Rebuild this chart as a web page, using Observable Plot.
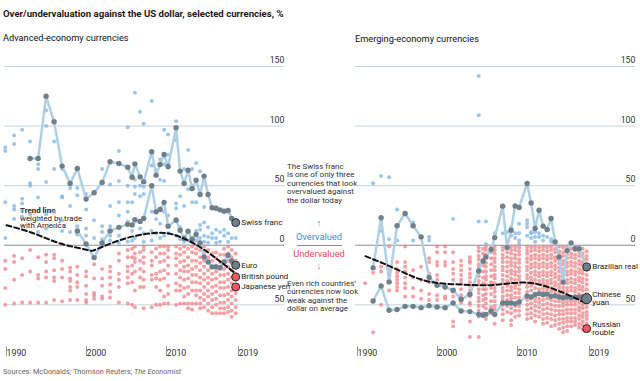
<!DOCTYPE html>
<html><head><meta charset="utf-8">
<script src="https://cdn.jsdelivr.net/npm/d3@7"></script>
<script src="https://cdn.jsdelivr.net/npm/@observablehq/plot@0.6"></script>
<style>
body{margin:0;background:#fff;}
#wrap{position:relative;width:640px;height:381px;overflow:hidden;font-family:"Liberation Sans Narrow","Roboto",sans-serif;color:#1a1a1a;}
.t{position:absolute;white-space:nowrap;line-height:1;}
#wrap svg{position:absolute;}
</style></head><body><div id="wrap">
<div class="t" style="left:3px;top:9px;font-size:9.6px;font-weight:bold">Over/undervaluation against the US dollar, selected currencies, %</div>
<div class="t" style="left:3px;top:33px;font-size:9.2px;color:#111">Advanced-economy currencies</div>
<div class="t" style="left:355px;top:34px;font-size:9.2px;color:#111">Emerging-economy currencies</div>
<div class="t" style="left:20px;top:207px;font-size:7.9px;line-height:7.6px;color:#222"><b>Trend line</b><br>weighted by trade<br>with America</div>
<div class="t" style="left:287px;top:163px;font-size:8px;line-height:8.4px;color:#333">The Swiss franc<br>is one of only three<br>currencies that look<br>overvalued against<br>the dollar today</div>
<div class="t" style="left:287px;top:219px;width:64px;text-align:center;font-size:9px;color:#3d8fd6">&#8593;</div>
<div class="t" style="left:287px;top:231.5px;width:64px;text-align:center;font-size:9.3px;color:#3d8fd6">Overvalued</div>
<div style="position:absolute;left:297px;top:245px;width:45px;height:1px;background:#8c8c8c"></div>
<div class="t" style="left:287px;top:248.5px;width:64px;text-align:center;font-size:9.3px;color:#ee4a55">Undervalued</div>
<div class="t" style="left:287px;top:262px;width:64px;text-align:center;font-size:9px;color:#ee4a55">&#8595;</div>
<div class="t" style="left:287px;top:280px;font-size:8px;line-height:8.4px;color:#333">Even rich countries’<br>currencies now look<br>weak against the<br>dollar on average</div>
<div class="t" style="left:3px;top:367.5px;font-size:7.3px;color:#666">Sources: McDonalds; Thomson Reuters; <i>The Economist</i></div>
</div>
<script>
// ---------- DATA ----------
const gridLevels = [150, 100, 50, 0, -50];
const yearTicks = [1990, 2000, 2010, 2019];

// Advanced economies: survey dates and all currency readings per date (%)
const advDates = [1990.1, 1991.2, 1992.2, 1993.2, 1994.2, 1995.2, 1996.2, 1997.2, 1998.2, 1999.1,
  2000.2, 2001.2, 2002.2, 2003.2, 2004.3, 2005.4, 2005.95, 2006.3, 2006.95, 2007.4,
  2008.4, 2008.95, 2009.45, 2009.95, 2010.45, 2011.45, 2011.95, 2012.45, 2012.95, 2013.45,
  2013.95, 2014.45, 2014.95, 2015.45, 2015.95, 2016.45, 2016.95, 2017.45, 2017.95, 2018.4, 2018.9];
const advValues = [
  [82, 79, 36, 6, -13, -20, -36, -50],
  [92, 85, 33, 30, 22, -9, -14, -29, -49],
  [97, 39, 35, 29, 24, -11, -25, -48],
  [87, 52, 50, 26, -4, -22, -48],
  [68, 64, 40, 22, 11, -10, -25, -28, -48],
  [113, 100, 53, 26, 14, -8, -14, -22, -27, -48],
  [87, 64, 28, 16, -8, -11, -21, -27, -30, -46],
  [64, 41, 40, 21, 12, -13, -20, -27, -47],
  [48, 33, 11, -19, -22, -28, -30, -35, -38, -46],
  [48, 42, 16, 9, -18, -25, -31, -35, -46],
  [43, 30, 14, 8, -22, -26, -34, -41, -46, -48],
  [21, 6, -16, -28, -40, -42, -45],
  [64, 16, 11, 5, -20, -28, -34, -43, -45],
  [51, 33, 16, 8, 4, -18, -22, -27, -33, -39, -44],
  [79, 54, 36, 25, 8, 2, -7, -13, -24, -29, -35, -48],
  [99, 50, 36, 28, 20, 3, -4, -10, -18, -22, -27, -32, -49],
  [36, 12, 4, -3, -10, -17, -24, -31, -50],
  [128, 55, 49, 43, 20, 6, -1, -7, -11, -14, -22, -38, -52],
  [112, 50, 41, 14, -6, -13, -20, -27, -35],
  [102, 49, 43, 10, 3, -1, -4, -10, -15, -22, -29, -35, -53],
  [121, 67, 28, 12, 4, -6, -13, -17, -25, -29, -52],
  [63, 22, 10, -3, -10, -24, -28, -35, -50],
  [72, 55, 18, 6, -1, -7, -14, -22, -29, -38, -50],
  [97, 68, 54, 28, 8, -1, -7, -13, -21, -28, -43, -49],
  [93, 76, 65, 25, 10, -1, -4, -10, -17, -24, -34, -41, -49],
  [104, 88, 35, 31, 22, 8, -1, -7, -11, -17, -24, -32, -38, -50],
  [41, 15, 5, -3, -8, -14, -21, -27, -34, -38, -49],
  [64, 33, 7, 3, -1, -6, -13, -18, -22, -29, -36, -43, -49],
  [80, 47, 11, 4, -3, -10, -17, -22, -28, -35, -41, -49, -53],
  [64, 36, 6, 3, -1, -6, -13, -20, -25, -31, -38, -49, -54],
  [69, 36, 12, 4, -3, -7, -13, -18, -25, -31, -38, -42, -49],
  [62, 17, 13, 6, -4, -10, -15, -21, -27, -32, -38, -44, -49, -53],
  [32, 19, 8, 3, -1, -7, -13, -18, -24, -29, -35, -41, -46, -52],
  [15, 7, 2, -4, -10, -15, -21, -27, -32, -38, -43, -49, -55],
  [10, 6, -7, -13, -18, -24, -29, -35, -41, -46, -52, -57],
  [13, 6, 2, -6, -11, -17, -22, -28, -34, -39, -45, -50, -57],
  [11, 3, -8, -14, -20, -25, -31, -36, -42, -48, -53, -57],
  [13, 8, -3, -8, -14, -20, -25, -31, -36, -42, -48, -53, -57],
  [10, 3, -1, -7, -13, -18, -24, -29, -35, -41, -46, -52, -56],
  [6, -4, -10, -15, -21, -27, -32, -38, -43, -49, -55, -60],
  [6, -7, -13, -18, -24, -29, -40, -46, -52, -57]
];
// Highlighted advanced series (aligned with advDates; null = no reading)
const swissFranc = [null, null, null, 72.8, 72.8, 125, 103.6, 66.4, 51.8, 64.4,
  38.7, 44, 52.7, 70, 68.6, 65.5, 57, 68.3, 57.4, 53.2,
  78.4, 58.8, 67.8, 76.2, 66.1, 98.6, 62.2, 51.8, 63, 47.6,
  54.6, 42.6, 58, 42.6, 31.4, 31, 29.7, 28.6, 29.1, 22.4, 19];
const euro = [null, null, null, null, null, null, null, null, null, 12,
  1, -10.4, 1.9, 12, 15, 17.5, 17, 21.5, 20, 22.5,
  50, 28, 30, 36, 16, 21, 12.6, 5.6, 11.8, 5,
  9, 2, -9.8, -14, -18.2, -18.2, -18.7, -14, -8.4, -13.2, -16.8];
const advTrendYears = [1990.25, 1993.7, 1997, 2000.1, 2001.2, 2003.25, 2006.2, 2009.1, 2011.2, 2013.7, 2016.2, 2018.9];
const advTrendValues = [16.8, 9.8, 1.4, -3.6, -4.2, 1.4, 7.6, 10.4, 8.7, 1.4, -9.8, -23.8];
const advEndNames = ["Swiss franc", "Euro", "British pound", "Japanese yen"];
const advEndValues = [19, -16.8, -26.6, -35];
const advEndKinds = ["line", "line", "under", "under"];

// Emerging economies
const emDates = [1991.2, 1992.2, 1993.2, 1994.2, 1995.2, 1996.2, 1997.2, 1998.2, 1999.2, 2000.2,
  2001.2, 2002.2, 2003.2, 2004.3, 2005.4, 2005.95, 2006.3, 2006.95, 2007.4, 2008.4,
  2008.95, 2009.45, 2009.95, 2010.45, 2011.45, 2011.95, 2012.45, 2012.95, 2013.45, 2013.95,
  2014.45, 2014.95, 2015.45, 2015.95, 2016.45, 2016.95, 2017.45, 2017.95, 2018.4, 2018.9];
const emValues = [
  [-32],
  [52, -23, -73],
  [58, 12, -18, -22, -50],
  [57, 5, -1, -21, -38],
  [30, 4, -14, -20, -23, -26, -29, -32, -35, -38],
  [-1, -14, -18, -22, -27, -32, -36, -43],
  [19, 4, -21, -27, -36, -43],
  [-18, -29, -38, -45],
  [7, 4, -11, -14, -24, -31, -41, -46],
  [-1, -6, -14, -17, -25, -29, -42, -46],
  [-1, -6, -14, -17, -36, -43, -45],
  [22, -6, -14, -20, -24, -29, -39, -43, -64, -68],
  [-13, -17, -21, -25, -29, -32, -37, -42, -48],
  [-10, -13, -15, -20, -24, -27, -31, -34, -38, -43, -48, -50, -64, -77],
  [142, 109, 20, -2, -5, -9, -12, -16, -19, -23, -26, -30, -33, -37, -40, -44, -47, -51, -55, -60, -77],
  [-3, -7, -12, -17, -22, -27, -32, -37, -42, -46, -51, -57],
  [20, 1, -1, -4, -8, -11, -15, -18, -22, -26, -29, -33, -37, -41, -45, -49, -53, -58, -62],
  [-2, -6, -11, -16, -21, -26, -31, -36, -41, -47, -52, -57],
  [10, -1, -4, -7, -11, -14, -18, -21, -25, -28, -32, -36, -39, -43, -47, -51, -54, -59, -66],
  [10, -1, -4, -8, -11, -14, -18, -21, -25, -29, -32, -36, -39, -43, -46, -50, -54, -58, -63],
  [11, -2, -6, -10, -14, -18, -22, -26, -30, -34, -38, -42, -46, -51, -56],
  [15, 8, -1, -4, -7, -11, -14, -17, -21, -24, -28, -31, -35, -38, -42, -45, -49, -53, -57, -63, -67],
  [10, 6, -1, -4, -8, -11, -15, -18, -22, -25, -29, -33, -36, -40, -44, -51, -55, -60],
  [18, 10, 4, 1, -2, -5, -8, -12, -15, -19, -22, -26, -29, -33, -37, -40, -44, -51, -55, -59],
  [21, 18, 15, 8, -1, -4, -7, -11, -14, -18, -21, -25, -28, -32, -35, -39, -46, -50, -54, -58, -62],
  [11, 10, 6, -2, -5, -9, -12, -16, -19, -23, -27, -30, -34, -38, -45, -49, -53, -57, -61],
  [11, 7, 3, -1, -4, -8, -11, -15, -18, -22, -25, -29, -32, -36, -44, -47, -51, -55, -59, -64],
  [10, 7, -2, -5, -9, -12, -16, -19, -23, -26, -30, -33, -37, -45, -48, -52, -56, -60],
  [8, 4, -1, -4, -8, -11, -15, -18, -22, -25, -29, -32, -36, -39, -46, -50, -54, -58, -62, -66],
  [7, -2, -5, -9, -12, -16, -19, -23, -26, -30, -33, -37, -45, -49, -53, -57, -61, -65],
  [5, 3, -1, -4, -8, -11, -15, -18, -22, -25, -29, -32, -36, -39, -46, -50, -54, -58, -62, -68],
  [-3, -6, -10, -13, -17, -20, -24, -27, -31, -34, -38, -41, -47, -51, -55, -59, -63, -67],
  [-1, -5, -8, -12, -15, -19, -22, -26, -29, -33, -36, -40, -47, -51, -55, -58, -62, -66, -70],
  [-2, -6, -9, -13, -16, -20, -23, -27, -35, -38, -42, -48, -51, -55, -58, -62, -65, -69, -73],
  [-1, -4, -8, -11, -15, -18, -22, -25, -29, -32, -36, -39, -47, -50, -54, -57, -61, -64, -68, -72],
  [-3, -7, -10, -14, -17, -21, -24, -28, -31, -35, -38, -47, -50, -54, -57, -61, -64, -68],
  [-1, -4, -8, -11, -15, -18, -22, -25, -29, -32, -36, -39, -47, -50, -54, -57, -61, -64, -67],
  [-2, -6, -9, -13, -16, -20, -23, -27, -30, -34, -37, -41, -48, -52, -55, -59, -62, -66, -69],
  [-3, -7, -10, -14, -17, -21, -24, -28, -31, -35, -38, -42, -46, -50, -53, -57, -60, -64, -67, -71],
  [-5, -9, -12, -16, -21, -25, -29, -33, -37, -41, -49, -52, -56, -59, -62, -66]
];
const brazilianReal = [null, -19, 23, -30.8, 16.3, 26.6, 16.3, 7, -27, -33.6,
  -35, -37.8, -45.4, -41.2, -21.6, -13.4, -9.8, -3.6, 6.4, 32.8,
  -2, 12.6, 33, 31.7, 51.8, 35.5, 14, 29.4, 16, 13.2,
  22.4, 2.8, -9.8, -31, -4.5, 2, -3, -3, null, -18.2];
const chineseYuan = [null, -46.8, -34.2, -54.6, -54, -51.3, -51.3, -52.4, -50.7, -51.8,
  -52.4, -48.5, -55.2, -55.7, -58, -58.8, -58, -55.2, -58, -48.5,
  -48.5, -48.5, -49, -47.6, -42.6, -43.4, -41.4, -40.6, -41.6, -41,
  -42.9, -42.6, -43.4, -44.3, -43.4, -44, -43.4, -43.7, -43.4, -44.8];
const emTrendYears = [1991.25, 1994, 1996.5, 1999.4, 2003.1, 2006.5, 2009, 2011.5, 2014, 2016.5, 2018.9];
const emTrendValues = [-9.2, -16.8, -24.4, -30.8, -33, -33.6, -32.2, -31.4, -35, -41.4, -49];
const emEndNames = ["Brazilian real", "Chinese\nyuan", "Russian\nrouble"];
const emEndValues = [-18.2, -44.8, -70];
const emEndKinds = ["line", "big", "under"];

// ---------- DRAWING ----------
const FONT = '"Liberation Sans Narrow", Roboto, sans-serif';
const BLUE = "#80b7e8", RED = "#f5858b", LINE = "#afd0e4", DARK = "#6e808c", ENDRED = "#f0595f";

function panel(dates, values, series, trendYears, trendValues, endNames, endValues, endKinds, width, mL, mR) {
  const cloud = [];
  dates.forEach((d, i) => values[i].forEach(v => cloud.push({date: d, value: v})));
  const trend = trendYears.map((d, i) => ({date: d, value: trendValues[i]}));
  const seriesMarks = series.flatMap(vals => {
    const pts = dates.map((d, i) => ({date: d, value: vals[i]})).filter(p => p.value != null);
    return [
      Plot.line(pts, {x: "date", y: "value", stroke: LINE, strokeWidth: 2.5}),
      Plot.dot(pts, {x: "date", y: "value", r: 2.7, fill: DARK})
    ];
  });
  const endDate = dates[dates.length - 1];
  const ends = endNames.map((n, i) => ({date: endDate, value: endValues[i], name: n, kind: endKinds[i]}));
  return Plot.plot({
    width, height: 316, marginTop: 16, marginBottom: 20, marginLeft: mL, marginRight: mR,
    x: {domain: [1990, 2025]},
    y: {domain: [-85, 150], axis: null},
    style: {fontFamily: FONT, fontSize: "9px", color: "#222", background: "transparent", overflow: "visible"},
    marks: [
      Plot.ruleY(gridLevels.filter(v => v !== 0), {y: d => d, stroke: "#c5d3dc", strokeWidth: 1}),
      Plot.ruleY(gridLevels.filter(v => v === 0), {y: d => d, stroke: "#8c8c8c", strokeWidth: 1}),
      Plot.text(gridLevels, {x: () => 2025, y: d => d, text: d => String(Math.abs(d)), textAnchor: "end", dy: -6, fontSize: 8.8, fill: "#333"}),
      Plot.axisX({ticks: yearTicks, tickSize: 10, tickPadding: -3, textAnchor: "start", lineAnchor: "middle", dx: 2, tickFormat: d => String(d), stroke: "#999", fill: "#333", fontSize: 8.8, label: null}),
      Plot.dot(cloud, {x: "date", y: "value", r: 2, fill: d => d.value >= 0 ? BLUE : RED, fillOpacity: 0.78}),
      ...seriesMarks,
      Plot.line(trend, {x: "date", y: "value", curve: "natural", stroke: "#111", strokeWidth: 2, strokeDasharray: "5,3"}),
      Plot.dot(ends, {x: "date", y: "value", r: d => d.kind === "big" ? 5 : 4, fill: d => d.kind === "under" ? ENDRED : DARK, stroke: "#2b2b2b", strokeWidth: 1}),
      Plot.text(ends, {x: "date", y: "value", text: "name", textAnchor: "start", dx: 5.5, lineAnchor: "middle", lineHeight: 0.95, fontSize: 8, fill: "#222"})
    ],
    color: {type: "identity"},
    r: {type: "identity"}
  });
}

const wrap = document.getElementById("wrap");
const left = panel(advDates, advValues, [swissFranc, euro], advTrendYears, advTrendValues, advEndNames, advEndValues, advEndKinds, 290, 4, 6);
left.style.left = "0px"; left.style.top = "50px";
wrap.appendChild(left);
const right = panel(emDates, emValues, [brazilianReal, chineseYuan], emTrendYears, emTrendValues, emEndNames, emEndValues, emEndKinds, 289, 4, 5);
right.style.left = "351px"; right.style.top = "50px";
wrap.appendChild(right);
</script>
</body></html>
